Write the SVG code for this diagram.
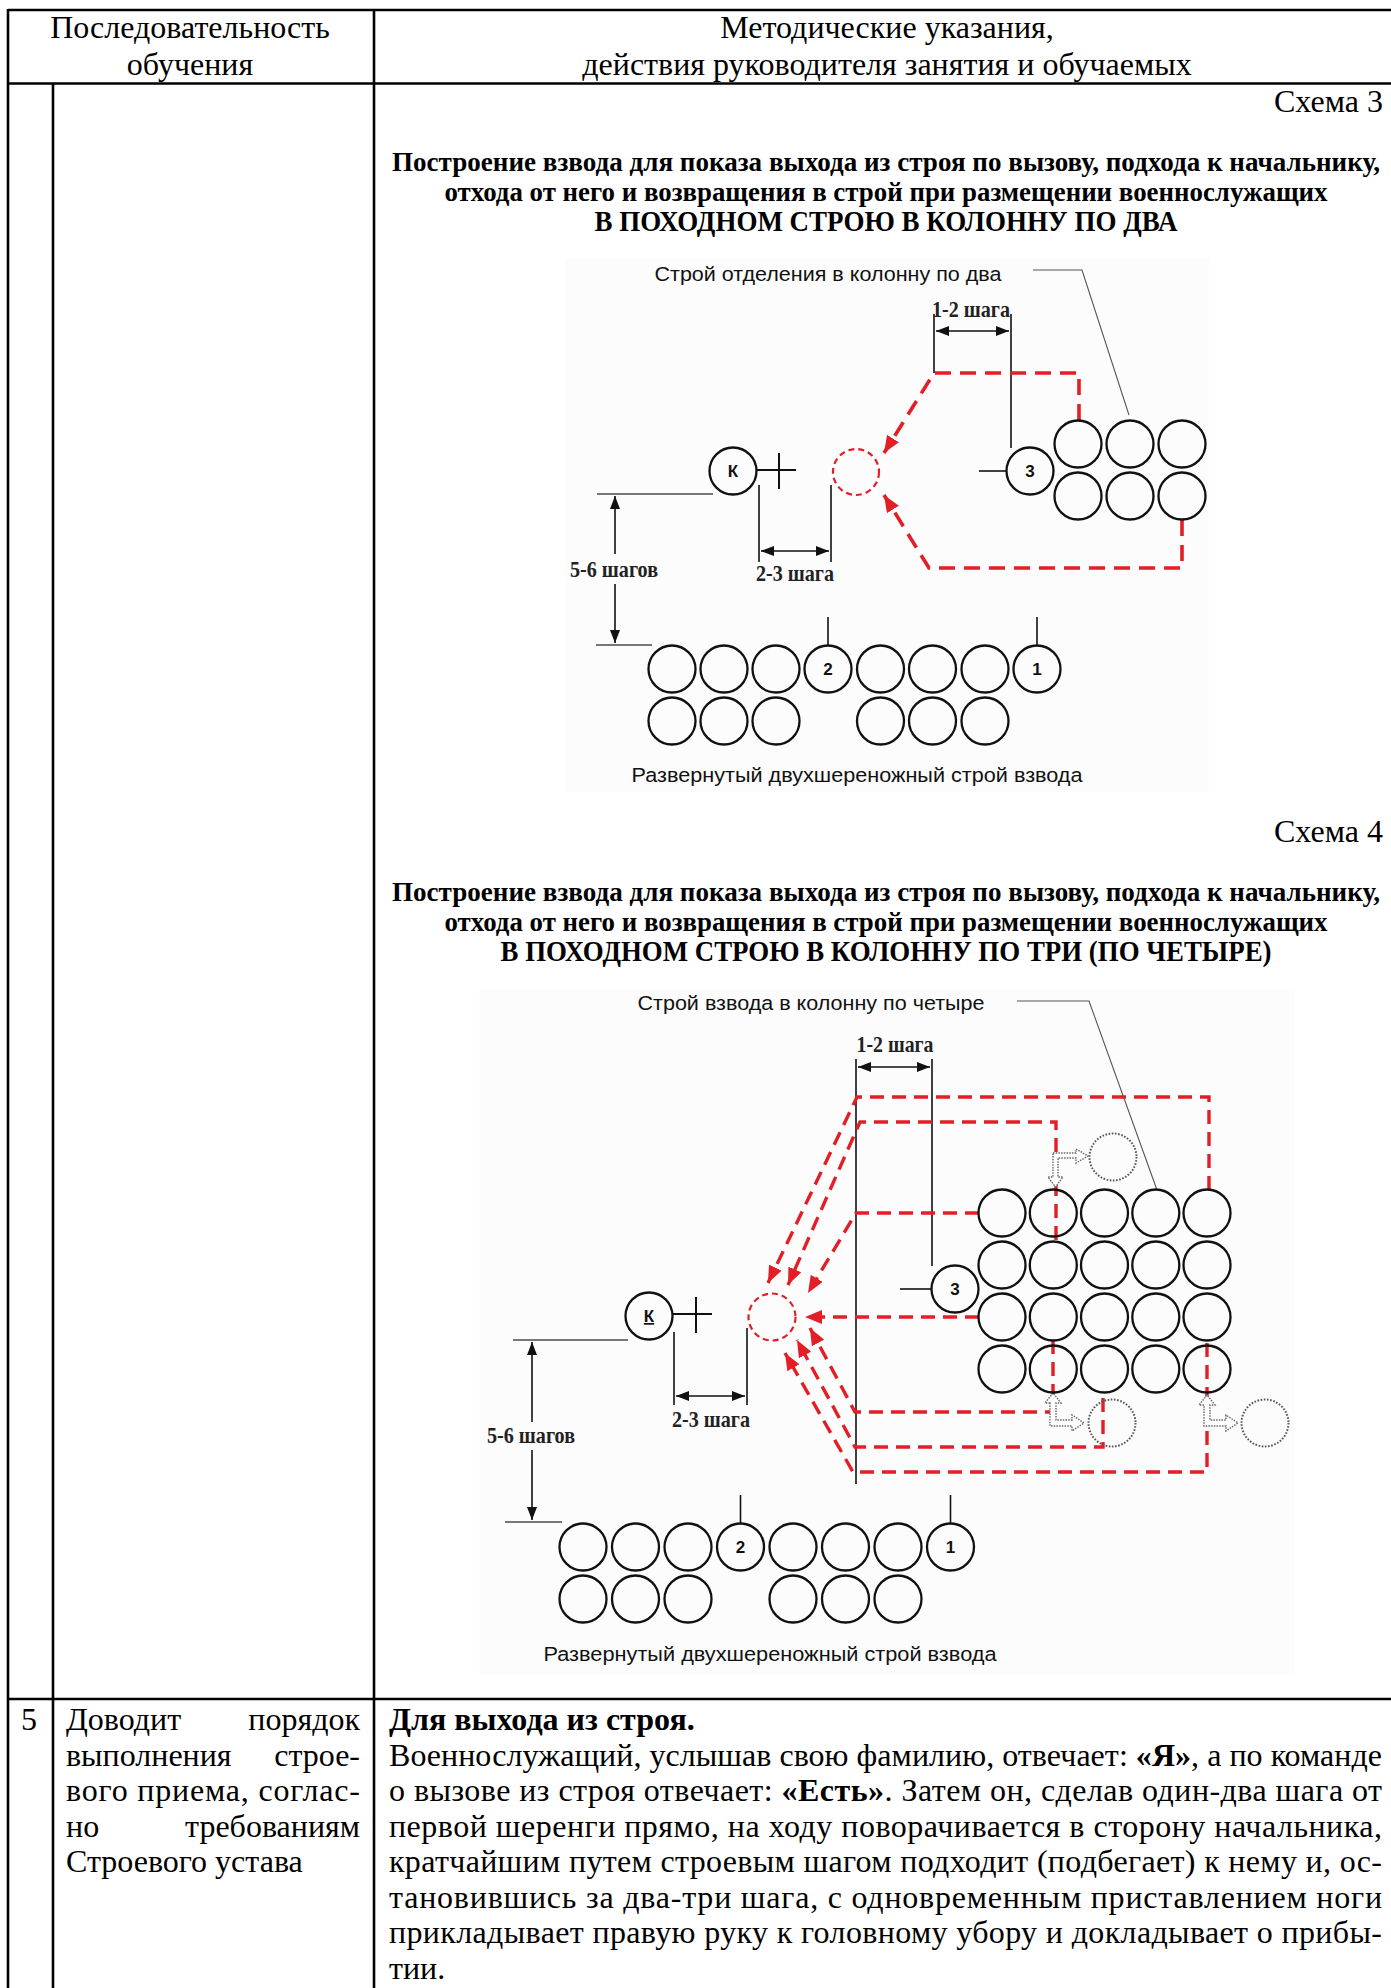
<svg xmlns="http://www.w3.org/2000/svg" width="1391" height="1988" viewBox="0 0 1391 1988">
<style>
.tl{stroke:#000;stroke-width:2.6;fill:none}
.ser{font-family:"Liberation Serif","Times New Roman",serif;fill:#000}
.body{font-size:32px}
.ttl{font-size:26.5px;font-weight:bold}
.cap{font-size:28.5px;font-weight:bold}
.sans{font-family:"Liberation Sans",Arial,sans-serif;fill:#111}
.lbl{font-size:20.5px}
.num{font-size:17px;font-weight:bold;text-anchor:middle}
.dim{font-family:"Liberation Serif","Times New Roman",serif;font-size:23px;font-weight:bold;fill:#222;text-anchor:middle}
.c{fill:none;stroke:#111;stroke-width:2.3}
.ln{stroke:#111;stroke-width:1.6;fill:none}
.gl{stroke:#777;stroke-width:1.8;fill:none}
.lead{stroke:#555;stroke-width:1.1;fill:none}
.rd{stroke:#e41e26;stroke-width:3.6;fill:none;stroke-dasharray:16 9}
.rd4{stroke:#e41e26;stroke-width:3.4;fill:none;stroke-dasharray:14 8}
.rc{fill:none;stroke:#e41e26;stroke-width:2.2;stroke-dasharray:6 4}
.gc{fill:none;stroke:#555;stroke-width:2;stroke-dasharray:1.6 1.6}
.ga{fill:#fff;stroke:#666;stroke-width:1.4;stroke-dasharray:1.5 1.2}
.bg{fill:#fcfcfc}
</style>
<defs>
<marker id="ah" viewBox="0 0 13 10" refX="13" refY="5" markerWidth="13" markerHeight="10" markerUnits="userSpaceOnUse" orient="auto-start-reverse"><path d="M0,0 L13,5 L0,10 z" fill="#111"/></marker>
<marker id="rh" viewBox="0 0 17 14" refX="17" refY="7" markerWidth="17" markerHeight="14" markerUnits="userSpaceOnUse" orient="auto"><path d="M0,0 L17,7 L0,14 z" fill="#e41e26"/></marker>
</defs>

<g id="table">
<line class="tl" x1="8" y1="10" x2="1391" y2="10"/>
<line class="tl" x1="8" y1="83.5" x2="1391" y2="83.5"/>
<line class="tl" x1="8" y1="1699" x2="1391" y2="1699"/>
<line class="tl" x1="8" y1="9" x2="8" y2="1988"/>
<line class="tl" x1="53" y1="83.5" x2="53" y2="1988"/>
<line class="tl" x1="374" y1="9" x2="374" y2="1988"/>
</g>

<g id="header" class="ser body" text-anchor="middle">
<text x="190" y="38">Последовательность</text>
<text x="190" y="75">обучения</text>
<text x="887" y="38">Методические указания,</text>
<text x="887" y="75">действия руководителя занятия и обучаемых</text>
</g>

<g id="scheme3-titles" class="ser">
<text class="body" x="1383" y="112" text-anchor="end">Схема 3</text>
<text class="ttl" x="886" y="171" text-anchor="middle" textLength="988" lengthAdjust="spacingAndGlyphs">Построение взвода для показа выхода из строя по вызову, подхода к начальнику,</text>
<text class="ttl" x="886" y="201" text-anchor="middle" textLength="883" lengthAdjust="spacingAndGlyphs">отхода от него и возвращения в строй при размещении военнослужащих</text>
<text class="cap" x="886" y="231" text-anchor="middle" textLength="583" lengthAdjust="spacingAndGlyphs">В ПОХОДНОМ СТРОЮ В КОЛОННУ ПО ДВА</text>
</g>

<rect class="bg" x="565" y="258" width="644" height="534"/>

<g id="scheme3-connectors">
<polyline class="lead" points="1033,270 1082,270 1129,415"/>
<line class="ln" x1="934" y1="314" x2="934" y2="373"/>
<line class="ln" x1="1011" y1="314" x2="1011" y2="448"/>
<line class="ln" x1="936" y1="331" x2="1009" y2="331" marker-start="url(#ah)" marker-end="url(#ah)"/>
<line class="ln" x1="759" y1="485" x2="759" y2="562"/>
<line class="ln" x1="831" y1="485" x2="831" y2="562"/>
<line class="ln" x1="761" y1="551" x2="829" y2="551" marker-start="url(#ah)" marker-end="url(#ah)"/>
<line class="gl" x1="597" y1="494" x2="713" y2="494"/>
<line class="gl" x1="596" y1="645" x2="652" y2="645"/>
<line class="ln" x1="615" y1="554" x2="615" y2="496" marker-end="url(#ah)"/>
<line class="ln" x1="615" y1="584" x2="615" y2="643" marker-end="url(#ah)"/>
<line class="ln" x1="979" y1="471" x2="1006" y2="471"/>
<line class="ln" x1="828" y1="617" x2="828" y2="645"/>
<line class="ln" x1="1037" y1="617" x2="1037" y2="645"/>
<path class="rd" d="M1079,420 V373 H934 L884,453" marker-end="url(#rh)"/>
<path class="rd" d="M1182,520 V568 H929 L884,495" marker-end="url(#rh)"/>
</g>

<g id="scheme3-labels">
<text class="sans lbl" x="828" y="281" text-anchor="middle" textLength="347" lengthAdjust="spacingAndGlyphs">Строй отделения в колонну по два</text>
<text class="dim" x="971" y="317" textLength="78" lengthAdjust="spacingAndGlyphs">1-2 шага</text>
<text class="dim" x="795" y="581" textLength="78" lengthAdjust="spacingAndGlyphs">2-3 шага</text>
<text class="dim" x="614" y="577" textLength="88" lengthAdjust="spacingAndGlyphs">5-6 шагов</text>
<text class="sans lbl" x="857" y="782" text-anchor="middle" textLength="451" lengthAdjust="spacingAndGlyphs">Развернутый двухшереножный строй взвода</text>
</g>

<g id="s3-commander"><circle class="c" cx="733" cy="471" r="23.5"/><text class="sans num" x="733" y="477">К</text>
<line class="ln" x1="757" y1="470" x2="796" y2="470" style="stroke-width:2"/><line class="ln" x1="779" y1="453" x2="779" y2="489" style="stroke-width:2"/></g>
<g id="s3-target"><circle class="rc" cx="856" cy="472" r="23"/></g>
<g id="s3-soldier3"><circle class="c" cx="1030" cy="471" r="23.5"/><text class="sans num" x="1030" y="477">3</text></g>
<g id="s3-squad">
<circle class="c" cx="1078" cy="444" r="23.5"/><circle class="c" cx="1130" cy="444" r="23.5"/><circle class="c" cx="1182" cy="444" r="23.5"/>
<circle class="c" cx="1078" cy="496" r="23.5"/><circle class="c" cx="1130" cy="496" r="23.5"/><circle class="c" cx="1182" cy="496" r="23.5"/>
</g>
<g id="s3-platoon">
<circle class="c" cx="672" cy="669" r="23.5"/><circle class="c" cx="724" cy="669" r="23.5"/><circle class="c" cx="776" cy="669" r="23.5"/><circle class="c" cx="828" cy="669" r="23.5"/>
<circle class="c" cx="880.5" cy="669" r="23.5"/><circle class="c" cx="932.5" cy="669" r="23.5"/><circle class="c" cx="985" cy="669" r="23.5"/><circle class="c" cx="1037" cy="669" r="23.5"/>
<circle class="c" cx="672" cy="721" r="23.5"/><circle class="c" cx="724" cy="721" r="23.5"/><circle class="c" cx="776" cy="721" r="23.5"/>
<circle class="c" cx="880.5" cy="721" r="23.5"/><circle class="c" cx="932.5" cy="721" r="23.5"/><circle class="c" cx="985" cy="721" r="23.5"/>
<text class="sans num" x="828" y="675">2</text><text class="sans num" x="1037" y="675">1</text>
</g>

<g id="scheme4-titles" class="ser">
<text class="body" x="1383" y="842" text-anchor="end">Схема 4</text>
<text class="ttl" x="886" y="901" text-anchor="middle" textLength="988" lengthAdjust="spacingAndGlyphs">Построение взвода для показа выхода из строя по вызову, подхода к начальнику,</text>
<text class="ttl" x="886" y="931" text-anchor="middle" textLength="883" lengthAdjust="spacingAndGlyphs">отхода от него и возвращения в строй при размещении военнослужащих</text>
<text class="cap" x="886" y="961" text-anchor="middle" textLength="771" lengthAdjust="spacingAndGlyphs">В ПОХОДНОМ СТРОЮ В КОЛОННУ ПО ТРИ (ПО ЧЕТЫРЕ)</text>
</g>

<rect class="bg" x="479" y="990" width="816" height="684"/>

<g id="scheme4-connectors">
<polyline class="lead" points="1017,1001 1089,1001 1157,1190"/>
<line class="ln" x1="856" y1="1059" x2="856" y2="1484"/>
<line class="ln" x1="932" y1="1059" x2="932" y2="1266"/>
<line class="ln" x1="858" y1="1067" x2="930" y2="1067" marker-start="url(#ah)" marker-end="url(#ah)"/>
<line class="ln" x1="900" y1="1289" x2="931" y2="1289"/>
<line class="ln" x1="674" y1="1332" x2="674" y2="1405"/>
<line class="ln" x1="747" y1="1328" x2="747" y2="1405"/>
<line class="ln" x1="676" y1="1396" x2="745" y2="1396" marker-start="url(#ah)" marker-end="url(#ah)"/>
<line class="gl" x1="513" y1="1340" x2="628" y2="1340"/>
<line class="gl" x1="505" y1="1522" x2="562" y2="1522"/>
<line class="ln" x1="532" y1="1422" x2="532" y2="1342" marker-end="url(#ah)"/>
<line class="ln" x1="532" y1="1450" x2="532" y2="1520" marker-end="url(#ah)"/>
<line class="ln" x1="740.5" y1="1495" x2="740.5" y2="1523"/>
<line class="ln" x1="950.5" y1="1495" x2="950.5" y2="1523"/>
<path class="rd4" d="M1209,1190 V1097 H857 L768,1283" marker-end="url(#rh)"/>
<path class="rd4" d="M1056,1240 V1122 H860 L788,1285" marker-end="url(#rh)"/>
<path class="rd4" d="M979,1213 H856 L808,1293" marker-end="url(#rh)"/>
<path class="rd4" d="M979,1317 H805" marker-end="url(#rh)"/>
<path class="rd4" d="M1053,1340 V1412 H855 L810,1328" marker-end="url(#rh)"/>
<path class="rd4" d="M1103,1398 V1447 H855 L797,1340" marker-end="url(#rh)"/>
<path class="rd4" d="M1207,1343 V1472 H853 L785,1353" marker-end="url(#rh)"/>
<polygon class="ga" points="1053,1153 1076,1153 1076,1149 1088,1156 1076,1163 1076,1158 1058,1158 1058,1177 1063,1177 1055.5,1187 1048,1177 1053,1177"/>
<polygon class="ga" points="1050,1403 1045,1403 1053,1393 1061,1403 1056,1403 1056,1420 1072,1420 1072,1415 1084,1423 1072,1431 1072,1426 1050,1426"/>
<polygon class="ga" points="1204,1405 1199,1405 1207,1395 1215,1405 1210,1405 1210,1420 1226,1420 1226,1415 1238,1423 1226,1431 1226,1426 1204,1426"/>
</g>

<g id="scheme4-labels">
<text class="sans lbl" x="811" y="1010" text-anchor="middle" textLength="347" lengthAdjust="spacingAndGlyphs">Строй взвода в колонну по четыре</text>
<text class="dim" x="895" y="1052" textLength="77" lengthAdjust="spacingAndGlyphs">1-2 шага</text>
<text class="dim" x="711" y="1427" textLength="78" lengthAdjust="spacingAndGlyphs">2-3 шага</text>
<text class="dim" x="531" y="1443" textLength="88" lengthAdjust="spacingAndGlyphs">5-6 шагов</text>
<text class="sans lbl" x="770" y="1661" text-anchor="middle" textLength="453" lengthAdjust="spacingAndGlyphs">Развернутый двухшереножный строй взвода</text>
</g>

<g id="s4-commander"><circle class="c" cx="649" cy="1316" r="23.5"/><text class="sans num" x="649" y="1322" text-decoration="underline">К</text>
<line class="ln" x1="673" y1="1314" x2="712" y2="1314" style="stroke-width:2"/><line class="ln" x1="696" y1="1297" x2="696" y2="1333" style="stroke-width:2"/></g>
<g id="s4-target"><circle class="rc" cx="772" cy="1317" r="23.5"/></g>
<g id="s4-soldier3"><circle class="c" cx="955" cy="1289" r="23.5"/><text class="sans num" x="955" y="1295">3</text></g>
<g id="s4-column">
<circle class="c" cx="1002" cy="1213" r="23.5"/><circle class="c" cx="1053.3" cy="1213" r="23.5"/><circle class="c" cx="1104.5" cy="1213" r="23.5"/><circle class="c" cx="1155.8" cy="1213" r="23.5"/><circle class="c" cx="1207" cy="1213" r="23.5"/>
<circle class="c" cx="1002" cy="1265" r="23.5"/><circle class="c" cx="1053.3" cy="1265" r="23.5"/><circle class="c" cx="1104.5" cy="1265" r="23.5"/><circle class="c" cx="1155.8" cy="1265" r="23.5"/><circle class="c" cx="1207" cy="1265" r="23.5"/>
<circle class="c" cx="1002" cy="1317" r="23.5"/><circle class="c" cx="1053.3" cy="1317" r="23.5"/><circle class="c" cx="1104.5" cy="1317" r="23.5"/><circle class="c" cx="1155.8" cy="1317" r="23.5"/><circle class="c" cx="1207" cy="1317" r="23.5"/>
<circle class="c" cx="1002" cy="1369" r="23.5"/><circle class="c" cx="1053.3" cy="1369" r="23.5"/><circle class="c" cx="1104.5" cy="1369" r="23.5"/><circle class="c" cx="1155.8" cy="1369" r="23.5"/><circle class="c" cx="1207" cy="1369" r="23.5"/>
</g>
<g id="s4-moved">
<circle class="gc" cx="1113" cy="1157" r="23.5"/><circle class="gc" cx="1112" cy="1423" r="23.5"/><circle class="gc" cx="1265" cy="1423" r="23.5"/>
</g>
<g id="s4-platoon">
<circle class="c" cx="583" cy="1547" r="23.5"/><circle class="c" cx="635.5" cy="1547" r="23.5"/><circle class="c" cx="688" cy="1547" r="23.5"/><circle class="c" cx="740.5" cy="1547" r="23.5"/>
<circle class="c" cx="793" cy="1547" r="23.5"/><circle class="c" cx="845.5" cy="1547" r="23.5"/><circle class="c" cx="898" cy="1547" r="23.5"/><circle class="c" cx="950.5" cy="1547" r="23.5"/>
<circle class="c" cx="583" cy="1599" r="23.5"/><circle class="c" cx="635.5" cy="1599" r="23.5"/><circle class="c" cx="688" cy="1599" r="23.5"/>
<circle class="c" cx="793" cy="1599" r="23.5"/><circle class="c" cx="845.5" cy="1599" r="23.5"/><circle class="c" cx="898" cy="1599" r="23.5"/>
<text class="sans num" x="740.5" y="1553">2</text><text class="sans num" x="950.5" y="1553">1</text>
</g>

<g id="row5" class="ser body">
<text x="29" y="1730" text-anchor="middle">5</text>
<text x="66" y="1730">Доводит</text><text x="360" y="1730" text-anchor="end">порядок</text>
<text x="66" y="1765.5">выполнения</text><text x="360" y="1765.5" text-anchor="end">строе-</text>
<text x="66" y="1801" textLength="294" lengthAdjust="spacing">вого приема, соглас-</text>
<text x="66" y="1836.5">но</text><text x="360" y="1836.5" text-anchor="end">требованиям</text>
<text x="66" y="1872">Строевого устава</text>
<text x="389" y="1730" font-weight="bold">Для выхода из строя.</text>
<text x="389" y="1765.5" textLength="993" lengthAdjust="spacing">Военнослужащий, услышав свою фамилию, отвечает: <tspan font-weight="bold">«Я»</tspan>, а по команде</text>
<text x="389" y="1801" textLength="993" lengthAdjust="spacing">о вызове из строя отвечает: <tspan font-weight="bold">«Есть»</tspan>. Затем он, сделав один-два шага от</text>
<text x="389" y="1836.5" textLength="993" lengthAdjust="spacing">первой шеренги прямо, на ходу поворачивается в сторону начальника,</text>
<text x="389" y="1872" textLength="993" lengthAdjust="spacing">кратчайшим путем строевым шагом подходит (подбегает) к нему и, ос-</text>
<text x="389" y="1907.5" textLength="993" lengthAdjust="spacing">тановившись за два-три шага, с одновременным приставлением ноги</text>
<text x="389" y="1943" textLength="993" lengthAdjust="spacing">прикладывает правую руку к головному убору и докладывает о прибы-</text>
<text x="389" y="1978.5">тии.</text>
</g>
</svg>
